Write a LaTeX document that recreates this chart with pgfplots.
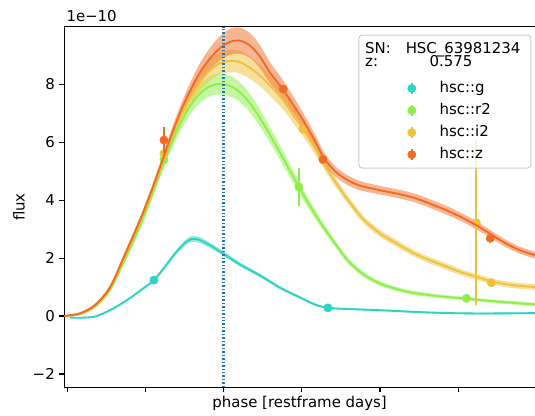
\documentclass[border=0pt]{standalone}
\usepackage{fontspec}
\setmainfont{DejaVu Sans}
\usepackage{pgfplots}
\usepackage{pgfplotstable}
\pgfplotsset{compat=1.18}
\usepgfplotslibrary{fillbetween}
\usetikzlibrary{calc}

\definecolor{cg}{RGB}{44,212,196}
\definecolor{cr}{RGB}{140,240,70}
\definecolor{ci}{RGB}{240,193,60}
\definecolor{cz}{RGB}{240,108,38}
\definecolor{vline}{RGB}{31,119,180}
\definecolor{legedge}{RGB}{204,204,204}

% phase, mean flux (1e-10), half width of band
\pgfplotstableread{
x m e
-20.38 0.00 0.02
-18.38 0.09 0.04
-16.46 0.37 0.06
-14.54 0.98 0.08
-12.62 2.12 0.10
-10.70 3.30 0.12
-9.42 4.18 0.13
-8.15 5.12 0.15
-6.87 6.10 0.18
-5.59 7.00 0.22
-4.31 7.76 0.27
-3.03 8.40 0.32
-1.75 8.88 0.37
-0.47 9.24 0.42
0.81 9.46 0.45
2.08 9.50 0.45
3.36 9.33 0.43
4.64 8.95 0.40
5.92 8.40 0.36
7.58 7.82 0.32
9.12 7.20 0.28
10.40 6.65 0.25
11.67 6.05 0.22
12.83 5.45 0.20
14.23 5.00 0.18
15.77 4.70 0.17
17.42 4.50 0.16
19.99 4.34 0.15
22.55 4.20 0.15
24.46 4.07 0.15
26.38 3.88 0.15
28.56 3.64 0.15
30.47 3.40 0.14
32.39 3.12 0.14
34.18 2.82 0.13
35.97 2.52 0.13
37.89 2.27 0.12
39.81 2.10 0.12
}\tz

\pgfplotstableread{
x m e
-20.38 0.00 0.02
-18.38 0.08 0.04
-16.46 0.35 0.06
-14.54 0.96 0.08
-12.62 2.07 0.10
-10.70 3.25 0.12
-9.42 4.12 0.14
-8.15 5.05 0.16
-6.87 6.00 0.19
-5.59 6.84 0.22
-4.31 7.52 0.27
-3.03 8.06 0.32
-1.75 8.48 0.36
-0.47 8.72 0.38
0.81 8.80 0.39
2.08 8.76 0.39
3.36 8.56 0.38
4.64 8.30 0.37
5.92 7.95 0.35
7.58 7.45 0.32
9.12 6.85 0.28
10.14 6.45 0.25
11.42 5.90 0.21
12.70 5.30 0.18
13.98 4.75 0.16
14.87 4.40 0.15
15.77 4.05 0.14
17.81 3.35 0.13
19.99 2.85 0.12
22.16 2.50 0.12
24.21 2.18 0.11
26.38 1.92 0.11
28.56 1.70 0.11
30.47 1.50 0.10
32.39 1.35 0.10
34.18 1.20 0.10
35.97 1.10 0.10
37.89 1.04 0.10
39.81 1.00 0.10
}\ti

\pgfplotstableread{
x m e
-20.38 0.00 0.02
-18.38 0.07 0.03
-16.46 0.32 0.05
-14.54 0.90 0.07
-12.62 1.95 0.09
-10.70 3.10 0.12
-9.42 3.98 0.14
-8.15 4.92 0.17
-6.87 5.82 0.21
-5.59 6.60 0.25
-4.31 7.23 0.29
-3.03 7.67 0.32
-1.75 7.93 0.35
-0.73 8.00 0.36
0.29 7.98 0.36
1.45 7.85 0.35
2.72 7.55 0.33
4.00 7.10 0.31
5.28 6.55 0.28
6.56 5.95 0.26
8.09 5.20 0.23
9.63 4.45 0.20
11.04 3.80 0.17
12.32 3.25 0.14
13.59 2.75 0.12
15.77 1.95 0.10
17.81 1.45 0.09
19.99 1.12 0.08
22.16 0.93 0.07
24.21 0.80 0.07
27.66 0.68 0.06
30.98 0.60 0.06
35.33 0.49 0.06
39.81 0.40 0.06
}\tr

\pgfplotstableread{
x m e
-19.65 -0.05 0.02
-18.38 -0.06 0.02
-16.46 -0.02 0.02
-14.54 0.20 0.03
-12.62 0.50 0.03
-10.70 0.87 0.04
-8.91 1.24 0.05
-7.51 1.70 0.06
-6.23 2.15 0.07
-4.95 2.52 0.09
-4.05 2.66 0.10
-3.03 2.62 0.10
-1.75 2.44 0.09
0.04 2.14 0.08
2.08 1.78 0.07
4.64 1.40 0.06
7.20 0.98 0.05
9.76 0.64 0.04
11.67 0.40 0.04
13.34 0.28 0.03
16.15 0.24 0.03
19.99 0.20 0.03
23.82 0.15 0.03
27.66 0.11 0.03
31.50 0.09 0.03
35.33 0.09 0.03
39.81 0.10 0.03
}\tg

\begin{document}
\begin{tikzpicture}[font=\fontsize{11.2}{13.4}\selectfont]
\begin{axis}[name=ax, scale only axis, width=353.0pt, height=270.45pt,
  xmin=-20.38, xmax=39.81, ymin=-2.46, ymax=9.98,
  axis x line*=box, axis y line*=left,
  xtick={-20,-10,0,10,20,30}, xticklabels={},
  ytick={-2,0,2,4,6,8}, yticklabels={−2,0,2,4,6,8},
  xtick pos=left, ytick pos=left,
  tick align=outside, major tick length=3.6pt,
  tick style={black, line width=0.8pt},
  axis line style={black, line width=0.8pt},
  xlabel={phase [restframe days]}, ylabel={flux},
  xlabel style={at={(rel axis cs:0.5,-0.0573)}, anchor=base},
  ylabel style={at={(rel axis cs:-0.0963,0.5)}, anchor=center},
  clip mode=individual,
  legend style={at={(rel axis cs:0.7285,0.8558)}, anchor=north west, draw=none, fill=none, inner sep=0pt, row sep=2.35pt,
    nodes={text height=8pt, text depth=2.2pt},
    /tikz/every odd column/.append style={column sep=15.55pt}},
  legend cell align=left,
  legend image code/.code={\draw[line width=1.1pt] (0.3cm,-4.2pt) -- (0.3cm,4.2pt); \fill (0.3cm,0pt) circle (3.1pt);},
]
% ---- hsc::g
\addplot[draw=none, name path=gu, smooth, forget plot] table[x=x, y expr=\thisrow{m}+\thisrow{e}] {\tg};
\addplot[draw=none, name path=gl, smooth, forget plot] table[x=x, y expr=\thisrow{m}-\thisrow{e}] {\tg};
\addplot[fill=cg, fill opacity=0.5, draw=none, forget plot] fill between[of=gu and gl];
\addplot[cg, line width=1.4pt, smooth, forget plot] table[x=x, y=m] {\tg};
\addplot[cg, only marks, mark=*, mark size=3.1pt, mark options={fill=cg, draw=cg},
  error bars/.cd, y dir=both, y explicit, error mark=none, error bar style={line width=1.1pt, cg}]
  coordinates {(-8.91,1.24) +- (0,0.05) (13.34,0.28) +- (0,0.04)};
\addlegendentry{hsc::g}
% ---- hsc::r2
\addplot[draw=none, name path=ru, smooth, forget plot] table[x=x, y expr=\thisrow{m}+\thisrow{e}] {\tr};
\addplot[draw=none, name path=rl, smooth, forget plot] table[x=x, y expr=\thisrow{m}-\thisrow{e}] {\tr};
\addplot[fill=cr, fill opacity=0.5, draw=none, forget plot] fill between[of=ru and rl];
\addplot[cr, line width=1.4pt, smooth, forget plot] table[x=x, y=m] {\tr};
\addplot[cr, only marks, mark=*, mark size=3.1pt, mark options={fill=cr, draw=cr},
  error bars/.cd, y dir=both, y explicit, error mark=none, error bar style={line width=1.1pt, cr}]
  coordinates {(-7.63,5.40) +- (0,0.15) (9.63,4.45) +- (0,0.65) (31.05,0.61) +- (0,0.05)};
\addlegendentry{hsc::r2}
% ---- hsc::i2
\addplot[draw=none, name path=iu, smooth, forget plot] table[x=x, y expr=\thisrow{m}+\thisrow{e}] {\ti};
\addplot[draw=none, name path=il, smooth, forget plot] table[x=x, y expr=\thisrow{m}-\thisrow{e}] {\ti};
\addplot[fill=ci, fill opacity=0.5, draw=none, forget plot] fill between[of=iu and il];
\addplot[ci, line width=1.4pt, smooth, forget plot] table[x=x, y=m] {\ti};
\addplot[ci, only marks, mark=*, mark size=3.1pt, mark options={fill=ci, draw=ci},
  error bars/.cd, y dir=both, y explicit, error mark=none, error bar style={line width=1.3pt, ci}]
  coordinates {(-7.63,5.60) +- (0,0.10) (10.14,6.45) +- (0,0.10) (32.31,3.22) +- (0,2.84) (34.23,1.15) +- (0,0.08)};
\addlegendentry{hsc::i2}
% ---- hsc::z
\addplot[draw=none, name path=zu, smooth, forget plot] table[x=x, y expr=\thisrow{m}+\thisrow{e}] {\tz};
\addplot[draw=none, name path=zl, smooth, forget plot] table[x=x, y expr=\thisrow{m}-\thisrow{e}] {\tz};
\addplot[fill=cz, fill opacity=0.5, draw=none, forget plot] fill between[of=zu and zl];
\addplot[cz, line width=1.4pt, smooth, forget plot] table[x=x, y=m] {\tz};
\addplot[cz, only marks, mark=*, mark size=3.1pt, mark options={fill=cz, draw=cz},
  error bars/.cd, y dir=both, y explicit, error mark=none, error bar style={line width=1.1pt, cz}]
  coordinates {(-7.63,6.07) +- (0,0.45) (7.62,7.83) +- (0,0.10) (12.70,5.40) +- (0,0.10) (34.10,2.68) +- (0,0.10)};
\addlegendentry{hsc::z}
% ---- peak phase
\addplot[vline, line width=1.8pt, dash pattern=on 1.1pt off 1.5pt, forget plot] coordinates {(0,-2.46) (0,9.98)};
% ---- legend frame and header
\draw[legedge, line width=0.75pt, fill=white, fill opacity=0.8, rounded corners=2.5pt]
  (rel axis cs:0.626,0.608) rectangle (rel axis cs:0.9915,0.977);
\node[anchor=base west, inner sep=0pt] at (rel axis cs:0.6388,0.9262) {SN:};
\node[anchor=base east, inner sep=0pt] at (rel axis cs:0.9696,0.9262) {HSC\_63981234};
\node[anchor=base west, inner sep=0pt] at (rel axis cs:0.6388,0.889) {z:};
\node[anchor=base, inner sep=0pt] at (rel axis cs:0.8215,0.889) {0.575};
\end{axis}
\node[anchor=base west, inner sep=0pt] at ($(ax.north west)+(1.5pt,3.9pt)$) {1e−10};
\pgfresetboundingbox
\path[use as bounding box] ($(ax.south west)+(-48.2pt,-21.5pt)$) rectangle ++(401.25pt,312pt);
\end{tikzpicture}
\end{document}
